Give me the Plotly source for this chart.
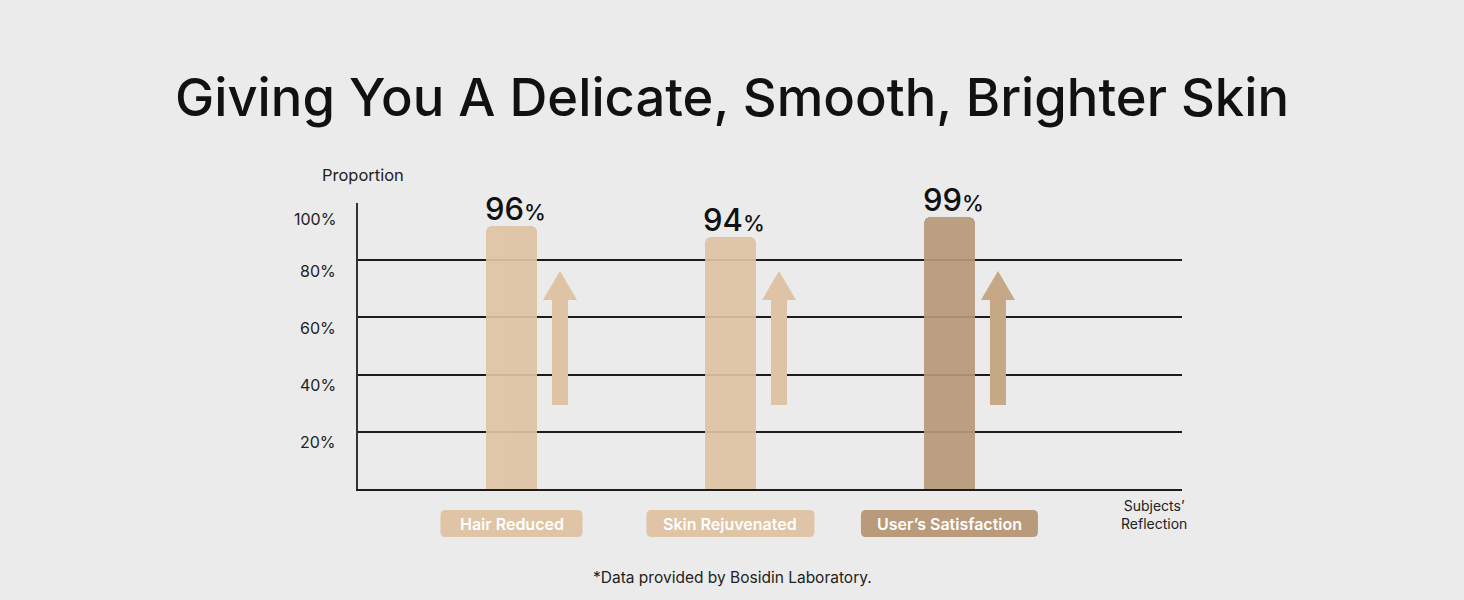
import plotly.graph_objects as go

# ---- data ----
categories = ["Hair Reduced", "Skin Rejuvenated", "User\u2019s Satisfaction"]
bar_heights = [92, 88, 95]          # visual bar heights (%)
value_labels = ["96", "94", "99"]   # printed values (%)
tick_values = [20, 40, 60, 80, 100]
tick_labels = ["20%", "40%", "60%", "80%", "100%"]
arrow_from = [29.4, 29.4, 29.4]
arrow_head = [66.1, 66.1, 66.1]
arrow_to = [76.2, 76.2, 76.2]

# ---- styles ----
FONT = "Inter, Open Sans, Liberation Sans, Arial, sans-serif"
BG = "#ebebeb"
bar_colors = ["#dec3a4", "#dec3a4", "#b69877"]
arrow_colors = ["#dec3a4", "#dec3a4", "#c7a886"]
box_colors = ["#dfc4a5", "#dfc4a5", "#b99b7b"]
box_widths_px = [142, 168, 177]

W, H = 1464, 600
L, R, T, B = 358, W - 1182, 203, H - 489

fig = go.Figure()
x_idx = list(range(len(categories)))
fig.add_trace(go.Bar(
    x=x_idx, y=bar_heights, width=0.233,
    marker=dict(color=bar_colors, cornerradius=6, line=dict(width=0)),
    opacity=0.92, hoverinfo="skip", showlegend=False,
))

shapes = []
annotations = []

for i, cat in enumerate(categories):
    # arrow beside the bar
    o = 48.5
    path = (f"M {o-8},{arrow_from[i]} L {o+8},{arrow_from[i]} L {o+8},{arrow_head[i]} "
            f"L {o+17},{arrow_head[i]} L {o},{arrow_to[i]} L {o-17},{arrow_head[i]} "
            f"L {o-8},{arrow_head[i]} Z")
    shapes.append(dict(type="path", xref="x", yref="y", xsizemode="pixel", xanchor=i,
                       path=path, fillcolor=arrow_colors[i], line=dict(width=0), layer="above"))
    # rounded label box below the axis
    w = box_widths_px[i] / 2
    top, bot, r = -21, -48, 5
    bpath = (f"M {-w+r},{top} L {w-r},{top} Q {w},{top} {w},{top-r} L {w},{bot+r} "
             f"Q {w},{bot} {w-r},{bot} L {-w+r},{bot} Q {-w},{bot} {-w},{bot+r} "
             f"L {-w},{top-r} Q {-w},{top} {-w+r},{top} Z")
    shapes.append(dict(type="path", xref="x", yref="paper", xsizemode="pixel", ysizemode="pixel",
                       xanchor=i, yanchor=0, path=bpath, fillcolor=box_colors[i],
                       line=dict(width=0), layer="above"))
    annotations.append(dict(x=i, y=0, xref="x", yref="paper", yanchor="middle", yshift=-34.5,
                            text=cat, showarrow=False,
                            font=dict(family=FONT, size=16, color="#ffffff", weight=600)))
    # value label
    annotations.append(dict(x=i, y=bar_heights[i], xref="x", yref="y", yanchor="bottom",
                            xshift=4, yshift=-3,
                            text=f"{value_labels[i]}<span style='font-size:22px'>%</span>",
                            showarrow=False,
                            font=dict(family=FONT, size=31, color="#111111", weight=500)))

# y tick labels
for v, t in zip(tick_values, tick_labels):
    annotations.append(dict(x=0, y=v, xref="paper", yref="y", xanchor="right", yanchor="middle",
                            xshift=-20, yshift=(-16 if v == 100 else -10.5), text=t, showarrow=False,
                            font=dict(family=FONT, size=16, color="#222222")))

annotations.append(dict(x=0, y=1, xref="paper", yref="paper", xanchor="center", yanchor="middle",
                        xshift=5, yshift=28, text="Proportion", showarrow=False,
                        font=dict(family=FONT, size=16.5, color="#222222")))
annotations.append(dict(x=(1154 - L) / (W - L - R), y=0, xref="paper", yref="paper",
                        xanchor="center", yanchor="top", yshift=-6,
                        text="Subjects\u2019<br>Reflection", showarrow=False, align="center",
                        font=dict(family=FONT, size=14, color="#222222")))
annotations.append(dict(x=(732 - L) / (W - L - R), y=0, xref="paper", yref="paper",
                        xanchor="center", yanchor="middle", yshift=-(577 - 489),
                        text="*Data provided by Bosidin Laboratory.", showarrow=False,
                        font=dict(family=FONT, size=15.5, color="#222222")))

fig.update_layout(
    width=W, height=H,
    margin=dict(l=L, r=R, t=T, b=B, pad=0),
    paper_bgcolor=BG, plot_bgcolor=BG,
    title=dict(text="Giving You A Delicate, Smooth, Brighter Skin", x=0.5, xref="container",
               xanchor="center", y=1 - 98 / H, yref="container", yanchor="middle",
               font=dict(family=FONT, size=52.5, color="#111111", weight=500)),
    shapes=shapes, annotations=annotations,
    xaxis=dict(range=[-0.701, 3.062], showgrid=False, zeroline=False, showticklabels=False,
               showline=True, linecolor="#1c1c1c", linewidth=2, ticks="", fixedrange=True),
    yaxis=dict(range=[0, 100], tickvals=[20, 40, 60, 80], showticklabels=False,
               showgrid=True, gridcolor="#1c1c1c", gridwidth=1.6, zeroline=False,
               showline=True, linecolor="#333333", linewidth=2, ticks="", fixedrange=True),
    bargap=0,
)

fig.write_html("out.html", config={"displayModeBar": False},
               post_script="document.body.style.margin='0';document.body.style.background='#ebebeb';")
